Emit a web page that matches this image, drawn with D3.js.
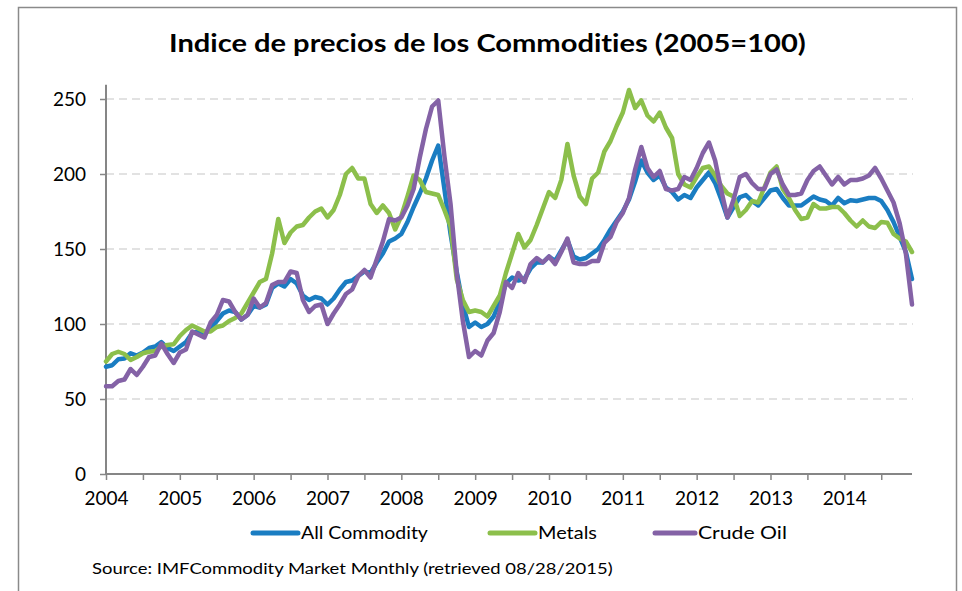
<!DOCTYPE html>
<html>
<head>
<meta charset="utf-8">
<script src="https://cdn.jsdelivr.net/npm/d3@7"></script>
<style>
  body { margin: 0; background: #fff; }
  svg text { font-family: Lato, "Open Sans", sans-serif; fill: #000; font-variant-ligatures: none; }
</style>
</head>
<body>
<svg id="chart" width="962" height="591"></svg>
<script>
// monthly index values, Jan 2004 .. Dec 2014 (2005 = 100)
const yearLabels = ['2004','2005','2006','2007','2008','2009','2010','2011','2012','2013','2014'];
const yTicks = [0, 50, 100, 150, 200, 250];

const allCommodity = [
  71.5, 72.5, 76.5, 77, 80.5, 79, 81, 84, 85, 88, 84, 82,
  85, 88, 94, 95, 93.5, 97, 102, 107, 109, 108, 103, 106,
  112, 111, 113, 124, 127, 125, 130, 127, 119, 116, 118, 117,
  113, 117, 123, 128, 129, 132, 135, 134, 141, 147, 155, 157,
  160, 168, 178, 187, 197, 209, 219, 190, 160, 135, 113, 98,
  101, 98, 100, 105, 115, 127, 131, 129, 130, 137, 141, 141,
  145, 142, 149, 156, 145, 143, 144, 147, 150, 156, 163, 169,
  175, 183, 195, 209, 201, 196, 199, 191, 188, 183, 186, 184,
  191, 196, 201, 194, 183, 171, 178, 184.5, 186, 182, 179, 184,
  189, 190, 184, 179, 179, 179, 182, 185, 183, 182, 179, 184,
  180.5, 182.5, 182, 183, 184, 184, 182, 176, 168, 158, 148, 130
];
const metals = [
  75, 80, 81.5, 80, 76, 78, 80.5, 81.5, 82, 85, 86, 86.5,
  92, 96, 99, 97, 95, 95, 98, 99, 102, 104, 107, 114,
  121, 128, 130, 147, 170, 154, 161, 165, 166, 171, 175, 177,
  171, 176, 186, 200, 204, 197, 197, 180, 174, 179, 174, 163,
  172, 185, 199, 196, 188, 187, 186, 176, 165, 130, 116, 108,
  109, 108, 105, 112, 119, 134, 147, 160, 151, 156, 166, 177,
  188, 184, 196, 220, 199, 185, 180, 197, 201, 215, 222, 232,
  241, 256, 244, 249, 239, 235, 241, 231, 224, 200, 193, 191,
  198, 204, 205, 199, 192, 187, 185, 172, 176, 182, 181, 191,
  201, 205, 190, 184, 176, 170, 171, 180, 177, 177, 178, 178,
  174, 169, 165, 169, 165, 164, 168, 167.5, 160, 157, 155, 148
];
const crudeOil = [
  58.5, 58.5, 62, 63, 70, 66, 71.5, 78, 79, 87, 80, 74,
  81, 83, 95, 93, 91, 101, 106, 116, 115, 108, 103, 106,
  117, 111, 114, 126, 128, 128, 135, 134, 116, 108, 112, 113,
  100, 107, 113, 120, 123, 132, 136, 131, 143, 155, 170, 169,
  171, 179, 190, 211, 230, 245, 249, 212, 180, 134, 102, 78,
  82, 79, 89, 94, 108, 128, 124, 134, 128, 140, 144, 141,
  145, 140, 148, 157, 141, 140, 140, 142, 142, 154, 158, 168,
  174, 184, 203, 218, 204, 198, 202, 190, 189, 190, 198, 196,
  204, 214, 221, 209, 189, 171, 183, 198, 200, 194, 190, 190,
  200, 203, 193, 186, 186, 187, 196, 202, 205, 199, 193, 198,
  193, 196, 196, 197, 199, 204, 197, 189, 181, 167, 147, 113
];

const series = [
  {name: 'All Commodity', values: allCommodity, color: '#1a7dc2'},
  {name: 'Metals', values: metals, color: '#8cbf4b'},
  {name: 'Crude Oil', values: crudeOil, color: '#8462a6'}
];

const svg = d3.select('#chart');

// stretch a text horizontally so it spans the given width
function fitWidth(sel, w) {
  sel.each(function() {
    const t = d3.select(this);
    const len = this.getComputedTextLength();
    const x = +t.attr('x'), y = +t.attr('y');
    t.attr('x', 0).attr('y', 0)
     .attr('transform', `translate(${x},${y}) scale(${w / len},1)`);
  });
}

// outer chart frame
svg.append('rect')
  .attr('x', 18.5).attr('y', 7.5)
  .attr('width', 938).attr('height', 620)
  .attr('fill', 'none').attr('stroke', '#8a8a8a').attr('stroke-width', 1.5);

const nMonths = allCommodity.length;
const xScale = d3.scaleLinear().domain([0, nMonths - 1]).range([106, 912]);
const yScale = d3.scaleLinear().domain([0, 250]).range([474, 99]);

// gridlines
svg.append('g')
  .selectAll('line').data(yTicks.filter(d => d > 0)).enter().append('line')
  .attr('x1', xScale(0)).attr('x2', xScale(nMonths - 1) + 1)
  .attr('y1', d => yScale(d)).attr('y2', d => yScale(d))
  .attr('stroke', '#d9d9d9').attr('stroke-width', 1.5)
  .attr('stroke-dasharray', '8,5');

// y axis
const yAxis = d3.axisLeft(yScale).tickValues(yTicks).tickSize(6).tickPadding(14);
const gy = svg.append('g').attr('transform', `translate(${xScale(0)},0)`).call(yAxis);
gy.select('.domain').attr('d', `M0,${yScale(0)}V${yScale(259.5)}`)
  .attr('stroke', '#868686').attr('stroke-width', 2);
gy.selectAll('.tick line').attr('stroke', '#868686').attr('stroke-width', 1.5);
gy.selectAll('.tick text').attr('font-size', 19).attr('fill', '#000')
  .style('font-family', 'Lato, sans-serif');

// x axis: tick every 6 months, label every 12
const xAxis = d3.axisBottom(xScale)
  .tickValues(d3.range(0, nMonths, 6))
  .tickSize(6).tickPadding(12)
  .tickFormat(d => d % 12 === 0 ? yearLabels[d / 12] : '');
const gx = svg.append('g').attr('transform', `translate(0,${yScale(0)})`).call(xAxis);
gx.select('.domain').attr('d', `M${xScale(0)},0H${xScale(nMonths - 1)}`)
  .attr('stroke', '#868686').attr('stroke-width', 2);
gx.selectAll('.tick line').attr('stroke', '#868686').attr('stroke-width', 1.5);
gx.selectAll('.tick text').attr('font-size', 19).attr('fill', '#000')
  .style('font-family', 'Lato, sans-serif');

// series lines
const line = d3.line()
  .x((d, i) => xScale(i))
  .y(d => yScale(d));

svg.append('g').selectAll('path').data(series).enter().append('path')
  .attr('d', d => line(d.values))
  .attr('fill', 'none')
  .attr('stroke', d => d.color)
  .attr('stroke-width', 4.5)
  .attr('stroke-linejoin', 'round')
  .attr('stroke-linecap', 'round');

// title
svg.append('text')
  .attr('x', 169).attr('y', 52)
  .attr('font-size', 25).attr('font-weight', 'bold')
  .text('Indice de precios de los Commodities (2005=100)')
  .call(fitWidth, 637);

// legend
const legendPos = [
  {lx: 253, tx: 301, tw: 127},
  {lx: 490, tx: 538, tw: 59},
  {lx: 655, tx: 698, tw: 89}
];
const lg = svg.append('g');
series.forEach((s, i) => {
  const p = legendPos[i];
  lg.append('line')
    .attr('x1', p.lx).attr('x2', p.tx - 3)
    .attr('y1', 533).attr('y2', 533)
    .attr('stroke', s.color).attr('stroke-width', 5)
    .attr('stroke-linecap', 'round');
  lg.append('text')
    .attr('x', p.tx).attr('y', 539)
    .attr('font-size', 18)
    .text(s.name)
    .call(fitWidth, p.tw);
});

// source note
svg.append('text')
  .attr('x', 92).attr('y', 574)
  .attr('font-size', 15)
  .text('Source: IMFCommodity Market Monthly (retrieved 08/28/2015)')
  .call(fitWidth, 521);
</script>
</body>
</html>
